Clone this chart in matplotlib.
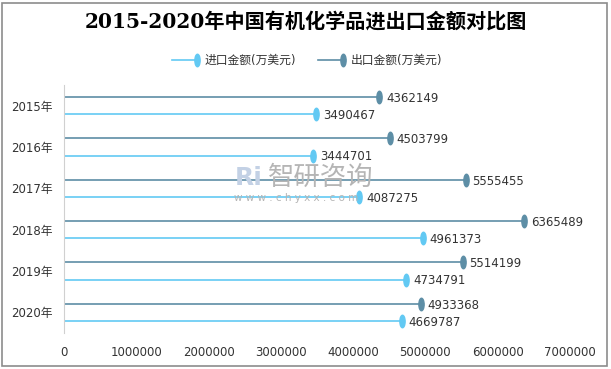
import matplotlib.pyplot as plt
import matplotlib.patches as mpatches
from matplotlib.path import Path
import matplotlib.transforms as mtransforms

plt.rcParams['font.family'] = ['DejaVu Sans', 'Noto Sans CJK SC']

# données
annees = ['2015年', '2016年', '2017年', '2018年', '2019年', '2020年']
importations = [3490467, 3444701, 4087275, 4961373, 4734791, 4669787]
exportations = [4362149, 4503799, 5555455, 6365489, 5514199, 4933368]
series = ['进口金额(万美元)', '出口金额(万美元)']

c_imp = '#62C9F3'
c_exp = '#5D8EA6'

# marqueur en ellipse verticale
cercle = Path.unit_circle()
ellipse = cercle.transformed(mtransforms.Affine2D().scale(0.42, 1.0))

fig = plt.figure(figsize=(6.11, 3.69), dpi=100)
fig.patches.append(mpatches.Rectangle((2 / 611, 3 / 369), 605 / 611, 363 / 369,
                                      transform=fig.transFigure, fill=False,
                                      edgecolor='#8c8c8c', linewidth=1.2))

ax = fig.add_axes([64 / 611, 1 - 333 / 369, 506 / 611, 248 / 369])

dy = 0.206
for i in range(len(annees)):
    ye = i - dy
    yi = i + dy
    ax.plot([0, exportations[i]], [ye, ye], color=c_exp, lw=1.2)
    ax.plot([exportations[i]], [ye], marker=ellipse, ms=9, color=c_exp, clip_on=False)
    ax.plot([0, importations[i]], [yi, yi], color=c_imp, lw=1.2)
    ax.plot([importations[i]], [yi], marker=ellipse, ms=9, color=c_imp, clip_on=False)
    ax.annotate(str(exportations[i]), (exportations[i], ye), xytext=(5, -1),
                textcoords='offset points', va='center', ha='left',
                fontsize=8.5, color='#333333', annotation_clip=False)
    ax.annotate(str(importations[i]), (importations[i], yi), xytext=(5, -1),
                textcoords='offset points', va='center', ha='left',
                fontsize=8.5, color='#333333', annotation_clip=False)

ax.set_xlim(0, 7000000)
ax.set_ylim(5.5, -0.5)
ax.set_yticks(range(len(annees)))
ax.set_yticklabels(annees)
ax.set_xticks(range(0, 7000001, 1000000))
ax.set_xticklabels([str(v) for v in range(0, 7000001, 1000000)])
ax.tick_params(axis='both', length=0, labelsize=8.5, colors='#333333')
ax.tick_params(axis='x', pad=9)
ax.tick_params(axis='y', pad=8)
for s in ['top', 'right', 'bottom']:
    ax.spines[s].set_visible(False)
ax.spines['left'].set_color('#d0d0d0')

# titre
fig.text(0.5, 1 - 22 / 369, '2015-2020年中国有机化学品进出口金额对比图',
         ha='center', va='center', fontsize=14.5, fontweight='bold',
         family=['DejaVu Serif', 'Noto Sans CJK SC'])

# légende (dessinée à la main : marqueur au bout du trait)
yl = 1 - 60 / 369
for x0, col, lab in [(172, c_imp, series[0]), (318, c_exp, series[1])]:
    fig.add_artist(plt.Line2D([x0 / 611, (x0 + 25) / 611], [yl, yl],
                              transform=fig.transFigure, color=col, lw=1.2))
    fig.add_artist(plt.Line2D([(x0 + 25) / 611], [yl], transform=fig.transFigure,
                              color=col, marker=ellipse, ms=9))
    fig.text((x0 + 33) / 611, yl, lab, ha='left', va='center', fontsize=8.5,
             color='#333333')

# filigrane
fig.text(268 / 611, 1 - 177 / 369, '智研咨询', fontsize=19, color='#b5b5b5',
         va='center', ha='left', family=['Noto Sans CJK SC'])
fig.text(234 / 611, 1 - 198 / 369, 'w w w . c h y x x . c o m', fontsize=7.5,
         color='#b5b5b5', va='center', ha='left')
fig.text(235 / 611, 1 - 178 / 369, 'Ri', fontsize=18, color='#c3d1e5',
         va='center', ha='left', fontweight='bold')

fig.savefig('out.png', dpi=100)
